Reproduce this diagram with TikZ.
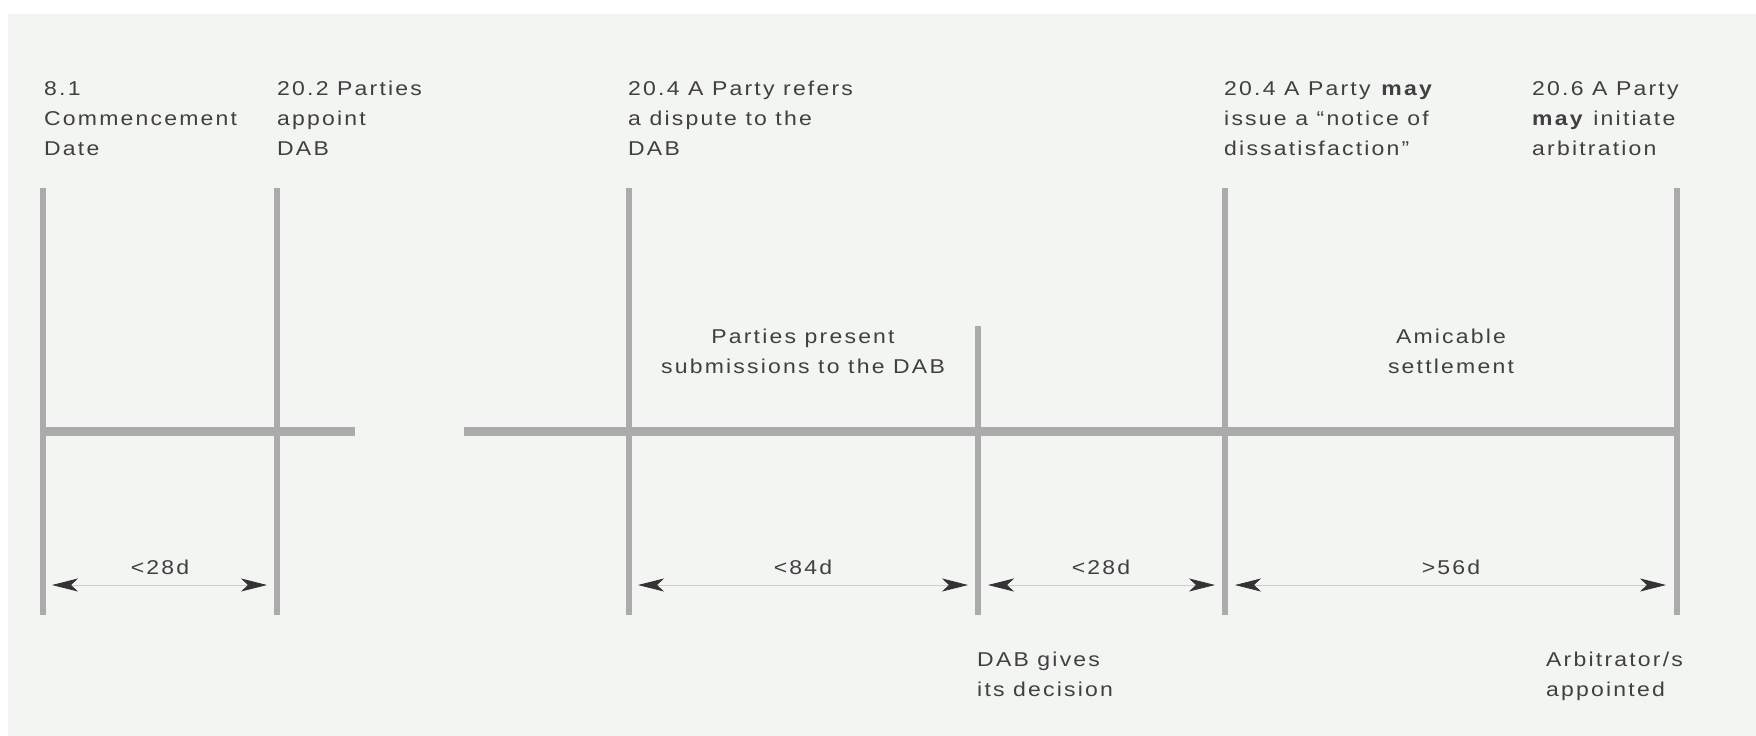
\documentclass[tikz,border=0pt]{standalone}
\usepackage{fontspec}
\newfontfamily\lab{Liberation Sans}[FakeStretch=1.15,LetterSpace=11]
\usetikzlibrary{arrows.meta}
\definecolor{bgc}{HTML}{F2F5F1}
\definecolor{barc}{HTML}{ABABAB}
\definecolor{txtc}{HTML}{404040}
\definecolor{tipc}{HTML}{333333}
\definecolor{shaftc}{HTML}{CDCDCD}
\begin{document}
\begin{tikzpicture}[x=1pt,y=-1pt,
  vline/.style={draw=barc, line width=5.5pt},
  hbar/.style={draw=barc, line width=9pt},
  lbl/.style={font={\lab\fontsize{20}{30}\selectfont}, text=txtc, inner sep=0pt, align=left, anchor=base west},
  clbl/.style={font={\lab\fontsize{20}{30}\selectfont}, text=txtc, inner sep=0pt, align=center, anchor=base},
  tipstyle/.tip={Stealth[length=26pt,width=13pt,inset=7pt,color=tipc]},
  dim/.style={draw=shaftc, line width=0.8pt, tipstyle-tipstyle}
]
\useasboundingbox (0,0) rectangle (1756,736);
\fill[white] (0,0) rectangle (1756,736);
\fill[bgc] (8,14) rectangle (1756,736);

% line coordinates
\coordinate (t1) at (43,188);   \coordinate (b1) at (43,615);
\coordinate (t2) at (277,188);  \coordinate (b2) at (277,615);
\coordinate (t3) at (629,188);  \coordinate (b3) at (629,615);
\coordinate (t4) at (978,326);  \coordinate (b4) at (978,615);
\coordinate (t5) at (1225,188); \coordinate (b5) at (1225,615);
\coordinate (t6) at (1677,188); \coordinate (b6) at (1677,615);

% horizontal bars
\coordinate (h1a) at (40,431);  \coordinate (h1b) at (355,431);
\coordinate (h2a) at (464,431); \coordinate (h2b) at (1680,431);
\draw[hbar] (h1a) -- (h1b);
\draw[hbar] (h2a) -- (h2b);

% vertical lines
\draw[vline] (t1) -- (b1);
\draw[vline] (t2) -- (b2);
\draw[vline] (t3) -- (b3);
\draw[vline] (t4) -- (b4);
\draw[vline] (t5) -- (b5);
\draw[vline] (t6) -- (b6);

% dimension arrows
\coordinate (d1a) at (52,585);   \coordinate (d1b) at (267,585);
\coordinate (d2a) at (638,585);  \coordinate (d2b) at (968,585);
\coordinate (d3a) at (988,585);  \coordinate (d3b) at (1215,585);
\coordinate (d4a) at (1235,585); \coordinate (d4b) at (1666,585);
\draw[dim] (d1a) -- (d1b);
\draw[dim] (d2a) -- (d2b);
\draw[dim] (d3a) -- (d3b);
\draw[dim] (d4a) -- (d4b);

% top labels (anchor = baseline of last line)
\node[lbl] (n81) at (44,155) {8.1\\Commencement\\Date};
\node[lbl] (n202) at (277,155) {20.2 Parties\\appoint\\DAB};
\node[lbl] (n204a) at (628,155) {20.4 A Party refers\\a dispute to the\\DAB};
\node[lbl] (n204b) at (1224,155) {20.4 A Party \textbf{may}\\issue a “notice of\\dissatisfaction”};
\node[lbl] (n206) at (1532,155) {20.6 A Party\\\textbf{may} initiate\\arbitration};

% middle labels
\node[clbl] (m1) at (803,373) {Parties present\\submissions to the DAB};
\node[clbl] (m2) at (1451,373) {Amicable\\settlement};

% dimension labels
\node[clbl] (l1) at (160,574) {<28d};
\node[clbl] (l2) at (803,574) {<84d};
\node[clbl] (l3) at (1101,574) {<28d};
\node[clbl] (l4) at (1451,574) {>56d};

% bottom labels
\node[lbl] (bt1) at (977,696) {DAB gives\\its decision};
\node[lbl] (bt2) at (1546,696) {Arbitrator/s\\appointed};
\end{tikzpicture}
\end{document}
